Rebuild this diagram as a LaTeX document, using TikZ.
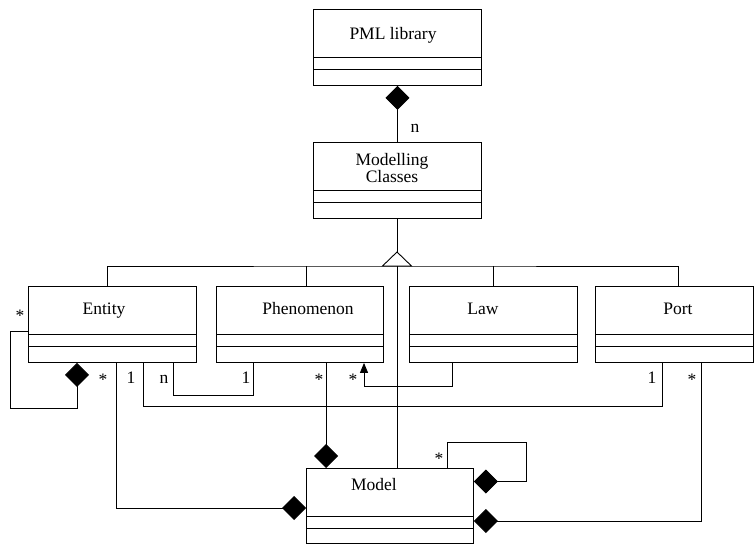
\documentclass[tikz,border=0pt]{standalone}
\usepackage{fontspec}
\setmainfont{Liberation Serif}
\usetikzlibrary{arrows.meta,calc}
\begin{document}
\begin{tikzpicture}[x=1pt,y=-1pt,line width=0.9pt,
  classbox/.style={draw,minimum width=168pt,minimum height=76pt,inner sep=0pt,anchor=north west},
  clsname/.style={font=\fontsize{17.5pt}{17.5pt}\selectfont,inner sep=0pt,anchor=base},
  mult/.style={font=\fontsize{17.5pt}{17.5pt}\selectfont,inner sep=0pt,anchor=base},
  comp/.style={-{Diamond[length=24pt,width=24pt]}},
  nav/.style={-{Triangle[length=10pt,width=8pt]}}]
\useasboundingbox (0,0) rectangle (755,545);

% class boxes
\node[classbox] (pml)  at (313,9)   {};
\node[classbox] (mc)   at (313,142) {};
\node[classbox] (ent)  at (28,286)  {};
\node[classbox,minimum width=167pt] (phe)  at (216,286) {};
\node[classbox] (law)  at (409,286) {};
\node[classbox,minimum width=158pt] (port) at (595,286) {};
\node[classbox,minimum width=167pt,minimum height=75pt] (mod) at (306,468) {};

% attribute and operation compartments
\foreach \c in {pml,mc,ent,phe,law,port,mod}{
  \draw ([yshift=-48pt]\c.north west) -- ([yshift=-48pt]\c.north east);
  \draw ([yshift=-60.5pt]\c.north west) -- ([yshift=-60.5pt]\c.north east);
}

% class names
\node[clsname] (pmlname)  at (393,40)  {PML library};
\node[clsname] (mcname1)  at (392,166) {Modelling};
\node[clsname] (mcname2)  at (392,183) {Classes};
\node[clsname] (entname)  at (104,315) {Entity};
\node[clsname] (phename)  at (308,315) {Phenomenon};
\node[clsname] (lawname)  at (483,315) {Law};
\node[clsname] (portname) at (678,315) {Port};
\node[clsname] (modname)  at (374,490) {Model};

% library composition
\draw[comp] (mc.north) -- (pml.south);
\node[mult] (m0) at (415,133) {n};

% generalisation
\coordinate (gapex) at (397,252);
\coordinate (gbase) at (397,266);
\draw (mc.south -| gapex) -- (gapex);
\coordinate (entup)  at ([xshift=-5pt]ent.north);
\coordinate (pheup)  at ([xshift=6.5pt]phe.north);
\coordinate (lawup)  at (law.north);
\coordinate (portup) at ([xshift=4pt]port.north);
\draw (entup) |- (gbase) -| (portup);
\draw (pheup) -- (pheup |- gbase);
\draw (lawup) -- (lawup |- gbase);
\draw (gbase) -- (gbase |- mod.north);
\draw[fill=white] (gapex) -- ++(-14.5,14) -- ++(29,0) -- cycle;

% entity self composition
\coordinate (entL) at ([yshift=-45pt]ent.north west);
\coordinate (entloop) at (10,408);
\coordinate (entD) at ([xshift=49pt]ent.south west);
\draw[comp] (entL) -| (entloop) -| (entD);
\node[mult] (m1) at (20,322) {*};
\node[mult] (m2) at (103,385) {*};

% entity in model
\coordinate (entA) at ([xshift=88pt]ent.south west);
\draw[comp] (entA) |- ([yshift=-40pt]mod.north west);

% entity - port
\coordinate (entB) at ([xshift=115pt]ent.south west);
\coordinate (portB) at ([xshift=67pt]port.south west);
\draw (entB) -- ++(0,44) -| (portB);
\node[mult] (m3) at (131,383) {1};
\node[mult] (m4) at (652,383) {1};

% entity - phenomenon
\coordinate (entC) at ([xshift=145pt]ent.south west);
\coordinate (pheB) at ([xshift=37pt]phe.south west);
\draw (entC) -- ++(0,33) -| (pheB);
\node[mult] (m5) at (164,383) {n};
\node[mult] (m6) at (246,383) {1};

% phenomenon in model
\coordinate (pheC) at ([xshift=110pt]phe.south west);
\draw[comp] (pheC) -- (pheC |- mod.north);
\node[mult] (m7) at (319,385) {*};

% law refers to phenomenon
\coordinate (lawB) at ([xshift=43pt]law.south west);
\coordinate (pheD) at ([xshift=148pt]phe.south west);
\draw[nav] (lawB) -- ++(0,24) -| (pheD);
\node[mult] (m8) at (353,385) {*};

% port in model
\coordinate (portC) at ([xshift=106pt]port.south west);
\draw[comp] (portC) |- ([yshift=-53pt]mod.north east);
\node[mult] (m9) at (692,385) {*};

% model self composition
\coordinate (modA) at ([xshift=141pt]mod.north west);
\coordinate (modloop) at (526,442);
\draw[comp] (modA) |- (modloop) |- ([yshift=-13.5pt]mod.north east);
\node[mult] (m10) at (439,464) {*};
\end{tikzpicture}
\end{document}
